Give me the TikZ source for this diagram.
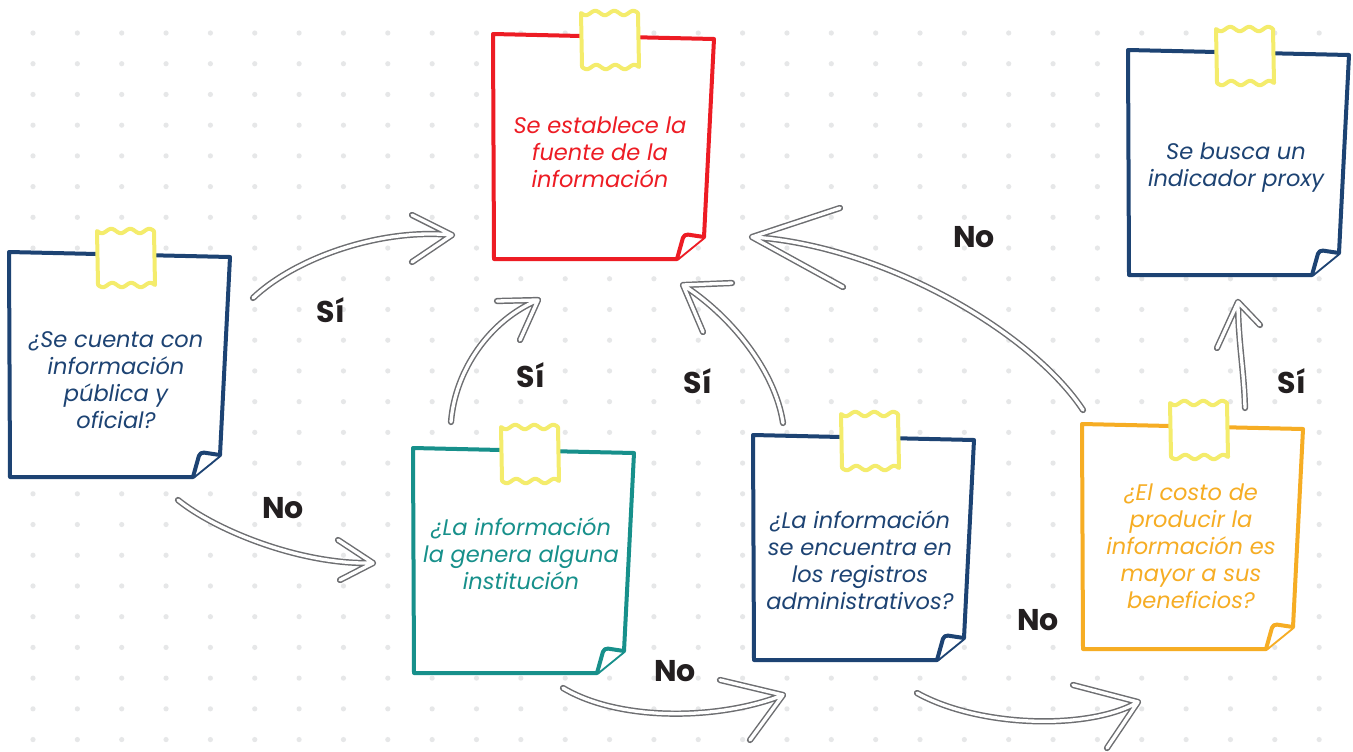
\documentclass[tikz,border=0pt]{standalone}
\usepackage{fontspec}
\setmainfont{Poppins}
\definecolor{navy}{HTML}{1D4373}
\definecolor{nred}{HTML}{ED1C24}
\definecolor{tealc}{HTML}{17908B}
\definecolor{orng}{HTML}{F6AD24}
\definecolor{tapec}{HTML}{F4EC6C}
\definecolor{arrowc}{HTML}{6D6E71}
\definecolor{dotc}{HTML}{E6E7E8}
\definecolor{lblc}{HTML}{231F20}
\tikzset{
  sketch/.style={draw=arrowc, line width=1.1pt, double=white, double distance=2.5pt, line cap=round, line join=round},
  notetext/.style={align=center, font=\itshape\fontsize{16.9}{20.25}\selectfont, inner sep=0pt},
  lbl/.style={text=lblc, font=\bfseries\fontsize{22.5}{27}\selectfont, inner sep=0pt, anchor=base},
}
\newcommand\stickynote[3]{%
  \begin{scope}[shift={(#1,#2)}]
    \filldraw[fill=white,draw=#3,line width=3pt,line join=round]
      (0,0) -- (221,5) -- (211,203) -- (184,225) -- (1,225) -- cycle;
    \filldraw[fill=white,draw=#3,line width=3pt,line join=round,rounded corners=3pt]
      (211,203) -- (191,200) -- (184,225);
    \filldraw[fill=white,draw=tapec,line width=3pt,line join=round]
      plot[domain=0:1,samples=40] ({88+57*\x},{-21+2.2*sin(1080*\x)})
      -- plot[domain=1:0,samples=40] ({89+57*\x},{33+2.2*sin(1080*\x)})
      -- cycle;
  \end{scope}}
\begin{document}
\begin{tikzpicture}[x=0.75pt,y=-0.75pt]
\useasboundingbox (0,0) rectangle (1353,751);
\fill[white] (0,0) rectangle (1353,751);
\foreach \i in {0,...,29} \foreach \j in {0,...,23}
  \fill[dotc] ({33+44.35*\i},{33+30.72*\j}) circle (2.6);

% arrow end points
\coordinate (aS) at (253,298); \coordinate (aT) at (452,235);
\coordinate (bS) at (178,500); \coordinate (bT) at (373,563);
\coordinate (cS) at (451,422); \coordinate (cT) at (538,300);
\coordinate (dS) at (783,423); \coordinate (dT) at (683,285);
\coordinate (eS) at (1083,410); \coordinate (eT) at (752,237);
\coordinate (fS) at (1245,408); \coordinate (fT) at (1238,302);
\coordinate (gS) at (563,688); \coordinate (gT) at (783,695);
\coordinate (hS) at (917,693); \coordinate (hT) at (1138,702);

\draw[sketch] (aS) .. controls (295,258) and (380,228) .. (aT) (412,215) -- (aT) -- (412,262);
\draw[sketch] (bS) .. controls (215,530) and (300,565) .. (bT) (338,540) -- (bT) -- (340,580);
\draw[sketch] (cS) .. controls (455,370) and (490,320) .. (cT) (497,301) -- (cT) -- (520,340);
\draw[sketch] (dS) .. controls (775,370) and (730,315) .. (dT) (732,283) -- (dT) -- (703,332);
\draw[sketch] (eS) .. controls (1030,330) and (880,245) .. (eT) (840,208) -- (eT) -- (843,287);
\draw[sketch] (fS) .. controls (1244,370) and (1238,340) .. (fT) (1217,348) -- (fT) -- (1260,325);
\draw[sketch] (gS) .. controls (620,722) and (720,720) .. (gT) (720,680) -- (gT) -- (750,740);
\draw[sketch] (hS) .. controls (980,728) and (1090,730) .. (hT) (1073,685) -- (hT) -- (1107,748);

% notes
\stickynote{9}{252}{navy}
\stickynote{493}{34}{nred}
\stickynote{1128}{50}{navy}
\stickynote{413}{448}{tealc}
\stickynote{753}{435}{navy}
\stickynote{1082}{424}{orng}

\node[notetext,text=navy] (q1) at (116,380) {¿Se cuenta con\\información\\pública y\\oficial?};
\node[notetext,text=nred] (fuente) at (600,152) {Se establece la\\fuente de la\\información};
\node[notetext,text=navy] (proxy) at (1236,168) {Se busca un\\indicador proxy};
\node[notetext,text=tealc] (q2) at (521,554) {¿La información\\la genera alguna\\institución};
\node[notetext,text=navy] (q3) at (860,560) {¿La información\\se encuentra en\\los registros\\administrativos?};
\node[notetext,text=orng] (q4) at (1191,546) {¿El costo de\\producir la\\información es\\mayor a sus\\beneficios?};

% labels
\node[lbl] (l1) at (331,322) {Sí};
\node[lbl] (l2) at (283,518) {No};
\node[lbl] (l3) at (531,387) {Sí};
\node[lbl] (l4) at (698,393) {Sí};
\node[lbl] (l5) at (974,247) {No};
\node[lbl] (l6) at (1292,393) {Sí};
\node[lbl] (l7) at (675,681) {No};
\node[lbl] (l8) at (1038,630) {No};
\end{tikzpicture}
\end{document}
